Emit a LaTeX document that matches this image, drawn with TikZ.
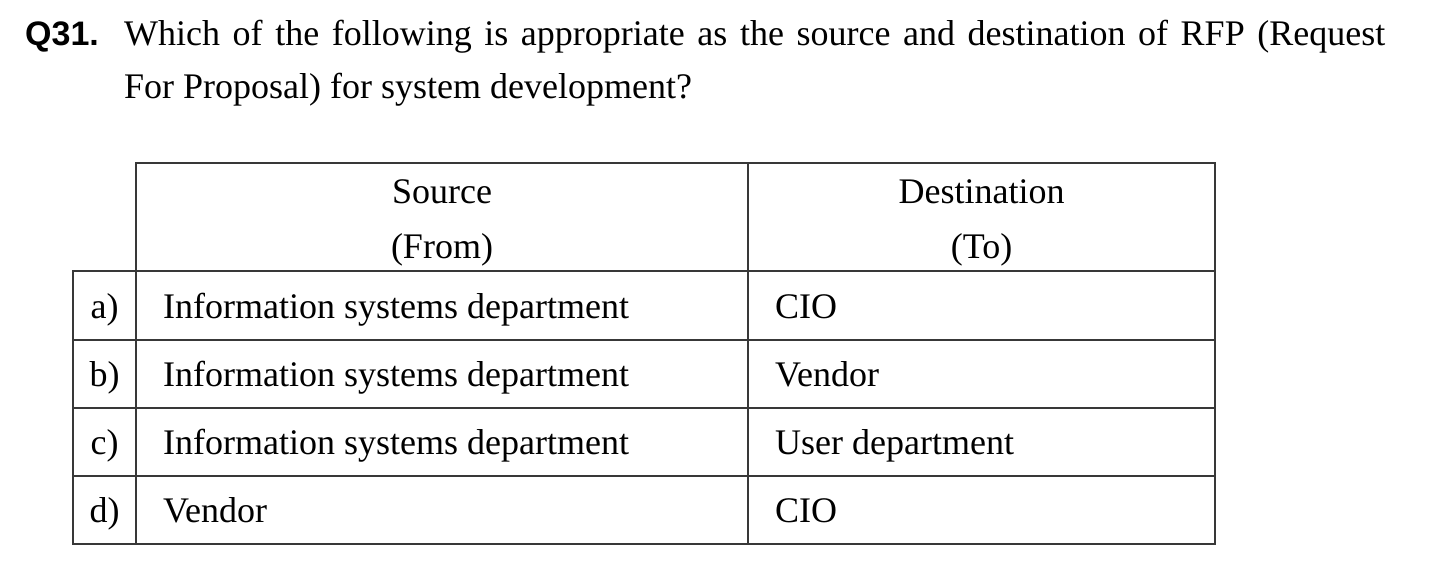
\documentclass[tikz,border=0pt]{standalone}
\usepackage{fontspec}
\setmainfont{Liberation Serif}
\newfontfamily\qsans{Liberation Sans}
\begin{document}
\begin{tikzpicture}[x=1pt,y=-1pt,
  tbl/.style={line width=2.2pt, draw=black!78},
  txt/.style={inner sep=0pt, font=\fontsize{36}{40}\selectfont},
  lt/.style={txt, anchor=base west},
  ct/.style={txt, anchor=base}]
\useasboundingbox (0,0) rectangle (1450,574);
\fill[white] (0,0) rectangle (1450,574);
% question
\node[inner sep=0pt, anchor=base west, font=\qsans\bfseries\fontsize{34}{40}\selectfont] (qnum) at (25,45) {Q31.};
\node[lt] (q1) at (124,45) {\makebox[1261pt][s]{Which of the following is appropriate as the source and destination of RFP (Request}};
\node[lt] (q2) at (124,98) {For Proposal) for system development?};
% table lines
\draw[tbl] (136,163) rectangle (1215,271);
\draw[tbl] (73,271) rectangle (1215,544);
\foreach \yy in {340,408,476} \draw[tbl] (73,\yy) -- (1215,\yy);
\draw[tbl] (136,271) -- (136,544);
\draw[tbl] (748,163) -- (748,544);
% header
\node[ct] (hs1) at (442,203) {Source};
\node[ct] (hs2) at (442,258) {(From)};
\node[ct] (hd1) at (981.5,203) {Destination};
\node[ct] (hd2) at (981.5,258) {(To)};
% rows
\node[ct] (la) at (104.5,318) {a)};
\node[lt] (sa) at (163,318) {Information systems department};
\node[lt] (da) at (775,318) {CIO};
\node[ct] (lb) at (104.5,386) {b)};
\node[lt] (sb) at (163,386) {Information systems department};
\node[lt] (db) at (775,386) {Vendor};
\node[ct] (lc) at (104.5,454) {c)};
\node[lt] (sc) at (163,454) {Information systems department};
\node[lt] (dc) at (775,454) {User department};
\node[ct] (ld) at (104.5,522) {d)};
\node[lt] (sd) at (163,522) {Vendor};
\node[lt] (dd) at (775,522) {CIO};
\end{tikzpicture}
\end{document}
